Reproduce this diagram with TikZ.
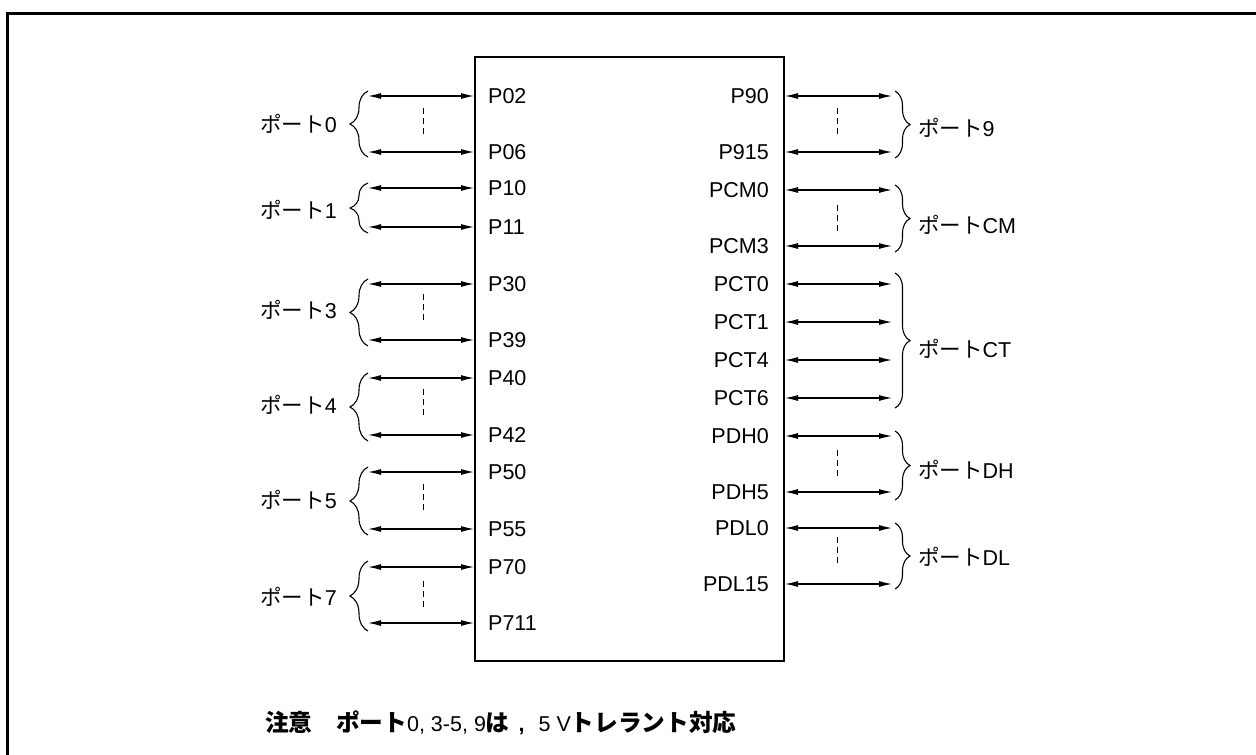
\documentclass[tikz,border=0pt]{standalone}
\usepackage{fontspec}
\setmainfont{Liberation Sans}
\newfontfamily\cjk{Noto Sans CJK JP}
\newfontfamily\cjkb[Scale=1.1]{Noto Sans CJK JP}
\usetikzlibrary{arrows.meta,decorations.pathreplacing}
\tikzset{
  txt/.style={font=\fontsize{21.5}{24}\selectfont, inner sep=0pt},
  lpin/.style={txt, anchor=west},
  rpin/.style={txt, anchor=east},
  wire/.style={{Latex[length=13pt,width=6pt]}-{Latex[length=13pt,width=6pt]}, line width=1.1pt},
  dots/.style={dash pattern=on 6pt off 4pt, line width=1pt},
  lbrace/.style={decorate, decoration={brace, amplitude=18pt, aspect=0.5}, line width=1.1pt},
  rbrace/.style={decorate, decoration={brace, amplitude=15pt, aspect=0.5}, line width=1.1pt},
}
\begin{document}
\begin{tikzpicture}[x=1pt,y=-1pt]
\useasboundingbox (0,0) rectangle (1256,755);
% outer frame
\draw[line width=3pt] (7,760) -- (7,13) -- (1260,13);
% chip
\draw[line width=2pt] (475,57) rectangle (784,661);
% left pins
\foreach \n/\y in {P02/96,P06/152,P10/188,P11/227,P30/284,P39/340,P40/378,P42/435,P50/472,P55/529,P70/567,P711/623}{
  \coordinate (L\n) at (368,\y);
  \coordinate (R\n) at (474,\y);
  \draw[wire] (L\n) -- (R\n);
  \node[lpin] (t\n) at (488,\y) {\n};
}
% right pins
\foreach \n/\y in {P90/96,P915/152,PCM0/190,PCM3/246,PCT0/284,PCT1/322,PCT4/360,PCT6/398,PDH0/436,PDH5/492,PDL0/528,PDL15/584}{
  \coordinate (L\n) at (785,\y);
  \coordinate (R\n) at (892,\y);
  \draw[wire] (L\n) -- (R\n);
  \node[rpin] (t\n) at (769,\y) {\n};
}
% left groups
\foreach \g/\a/\b/\m/\d in {0/91/157/124/1,1/183/233/210/0,3/279/346/310/1,4/373/441/405/1,5/467/535/500/1,7/561/631/597/1}{
  \coordinate (lb\g) at (368,\b);
  \coordinate (lt\g) at (368,\a);
  \draw[lbrace] (lb\g) -- (lt\g);
  \node[txt, anchor=east] (port\g) at (337,\m) {{\cjk ポート}\g};
  \ifnum\d=1
    \coordinate (ld\g a) at (423,\m-16);
    \coordinate (ld\g b) at (423,\m+12);
    \draw[dots] (ld\g a) -- (ld\g b);
  \fi
}
% right groups
\foreach \g/\a/\b/\m/\d in {9/91/158/128/1,CM/185/252/225/1,CT/273/408/349/0,DH/431/500/470/1,DL/523/589/557/1}{
  \coordinate (rt\g) at (895,\a);
  \coordinate (rb\g) at (895,\b);
  \draw[rbrace] (rt\g) -- (rb\g);
  \node[txt, anchor=west] (port\g) at (918,\m) {{\cjk ポート}\g};
  \ifnum\d=1
    \coordinate (rd\g a) at (837,\m-20);
    \coordinate (rd\g b) at (837,\m+7);
    \draw[dots] (rd\g a) -- (rd\g b);
  \fi
}
% note
\node[txt, anchor=west] (note) at (265,723) {{\cjkb\bfseries 注意　ポート}0, 3-5, 9{\cjkb\bfseries は}\hspace{9pt}{\bfseries ,}\hspace{14pt}5 V{\cjkb\bfseries トレラント対応}};
\end{tikzpicture}
\end{document}
